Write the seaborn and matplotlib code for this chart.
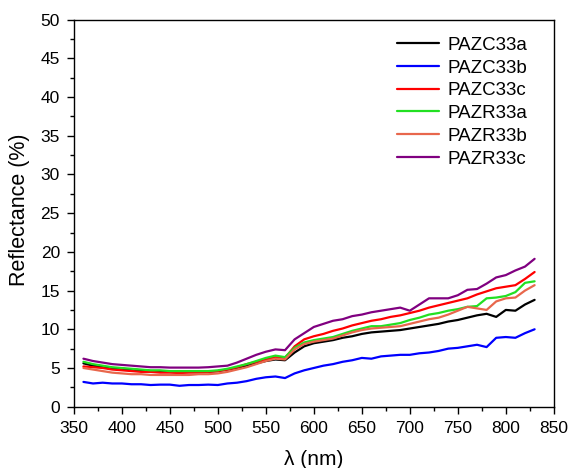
import numpy as np
import pandas as pd
import matplotlib
matplotlib.use("Agg")
import matplotlib.pyplot as plt
from matplotlib.ticker import MultipleLocator
import seaborn as sns

wavelength = list(range(360, 840, 10))

pazc33a = [5.6, 5.3, 5.1, 4.9, 4.9, 4.8, 4.7, 4.6, 4.6, 4.5, 4.5, 4.5, 4.5, 4.5, 4.6, 4.8,
           5.0, 5.3, 5.6, 5.9, 6.1, 6.0, 7.0, 7.8, 8.2, 8.4, 8.6, 8.9, 9.1, 9.4, 9.6, 9.7,
           9.8, 9.9, 10.1, 10.3, 10.5, 10.7, 11.0, 11.2, 11.5, 11.8, 12.0, 11.6, 12.5, 12.4, 13.2, 13.8]
pazc33b = [3.2, 3.0, 3.1, 3.0, 3.0, 2.9, 2.9, 2.8, 2.85, 2.85, 2.7, 2.8, 2.8, 2.85, 2.8, 3.0,
           3.1, 3.3, 3.6, 3.8, 3.9, 3.7, 4.3, 4.7, 5.0, 5.3, 5.5, 5.8, 6.0, 6.3, 6.2, 6.5,
           6.6, 6.7, 6.7, 6.9, 7.0, 7.2, 7.5, 7.6, 7.8, 8.0, 7.7, 8.9, 9.0, 8.9, 9.5, 10.0]
pazc33c = [5.2, 5.1, 5.0, 4.8, 4.7, 4.6, 4.5, 4.5, 4.4, 4.4, 4.35, 4.4, 4.4, 4.5, 4.6, 4.8,
           5.1, 5.5, 5.8, 6.1, 6.4, 6.3, 7.8, 8.7, 9.1, 9.4, 9.8, 10.1, 10.5, 10.8, 11.1, 11.3,
           11.6, 11.8, 12.1, 12.4, 12.8, 13.1, 13.4, 13.7, 14.0, 14.5, 14.9, 15.3, 15.5, 15.7, 16.5, 17.4]
pazr33a = [5.8, 5.5, 5.3, 5.1, 5.0, 4.9, 4.8, 4.7, 4.7, 4.6, 4.6, 4.6, 4.6, 4.6, 4.7, 4.9,
           5.2, 5.5, 5.9, 6.3, 6.6, 6.4, 7.6, 8.3, 8.6, 8.8, 9.0, 9.4, 9.8, 10.1, 10.4, 10.4,
           10.6, 10.8, 11.2, 11.5, 11.9, 12.1, 12.4, 12.6, 12.9, 13.0, 14.0, 14.1, 14.3, 14.8, 16.0, 16.2]
pazr33b = [5.0, 4.8, 4.6, 4.4, 4.3, 4.2, 4.2, 4.1, 4.1, 4.1, 4.1, 4.1, 4.2, 4.2, 4.3, 4.5,
           4.8, 5.1, 5.5, 5.9, 6.2, 6.1, 7.4, 8.1, 8.4, 8.6, 8.8, 9.2, 9.6, 9.9, 10.1, 10.2,
           10.3, 10.4, 10.7, 11.0, 11.3, 11.5, 11.9, 12.4, 12.9, 12.7, 12.5, 13.6, 14.0, 14.1, 15.0, 15.7]
pazr33c = [6.2, 5.9, 5.7, 5.5, 5.4, 5.3, 5.2, 5.1, 5.1, 5.05, 5.05, 5.05, 5.05, 5.1, 5.2, 5.3,
           5.7, 6.2, 6.7, 7.1, 7.4, 7.3, 8.7, 9.5, 10.3, 10.7, 11.1, 11.3, 11.7, 11.9, 12.2, 12.4,
           12.6, 12.8, 12.4, 13.2, 14.0, 14.0, 14.0, 14.4, 15.1, 15.2, 15.9, 16.7, 17.0, 17.6, 18.1, 19.1]

series_names = ["PAZC33a", "PAZC33b", "PAZC33c", "PAZR33a", "PAZR33b", "PAZR33c"]
series_values = [pazc33a, pazc33b, pazc33c, pazr33a, pazr33b, pazr33c]
colors = ["#000000", "#0000FF", "#FF0000", "#22E022", "#E8674C", "#800080"]

df = pd.concat([pd.DataFrame({"wl": wavelength, "R": v, "sample": n})
                for n, v in zip(series_names, series_values)], ignore_index=True)

sns.set_theme(style="ticks")
plt.rcParams['font.family'] = ['Liberation Sans', 'DejaVu Sans']
plt.rcParams['text.color'] = 'black'
plt.rcParams['axes.labelcolor'] = 'black'

fig = plt.figure(figsize=(5.68, 4.68), dpi=100)
ax = fig.add_axes([0.130, 0.131, 0.845, 0.827])
sns.lineplot(data=df, x="wl", y="R", hue="sample", hue_order=series_names,
             palette=dict(zip(series_names, colors)), linewidth=1.6, ax=ax)

ax.set_xlim(350, 850)
ax.set_ylim(0, 50)
ax.xaxis.set_major_locator(MultipleLocator(50))
ax.xaxis.set_minor_locator(MultipleLocator(25))
ax.yaxis.set_major_locator(MultipleLocator(5))
ax.yaxis.set_minor_locator(MultipleLocator(2.5))
ax.tick_params(which='major', direction='out', length=5, width=1, labelsize=12.5,
               colors='black', pad=5)
ax.tick_params(which='minor', direction='out', length=3, width=1, colors='black')
for s in ax.spines.values():
    s.set_linewidth(1.0)
    s.set_color('black')
ax.set_xlabel("λ (nm)", fontsize=15, color='black')
ax.set_ylabel("Reflectance (%)", fontsize=15.5, color='black')
ax.xaxis.set_label_coords(0.5, -0.113)
ax.yaxis.set_label_coords(-0.092, 0.51)
leg = ax.legend(loc='upper right', bbox_to_anchor=(0.972, 0.99), frameon=False, fontsize=13.5,
                handlelength=2.25, handletextpad=0.45, labelspacing=0.3, borderaxespad=0.3)
for t in leg.get_texts():
    t.set_color('black')
for line in leg.get_lines():
    line.set_linewidth(1.6)
fig.savefig("out.png", dpi=100)
